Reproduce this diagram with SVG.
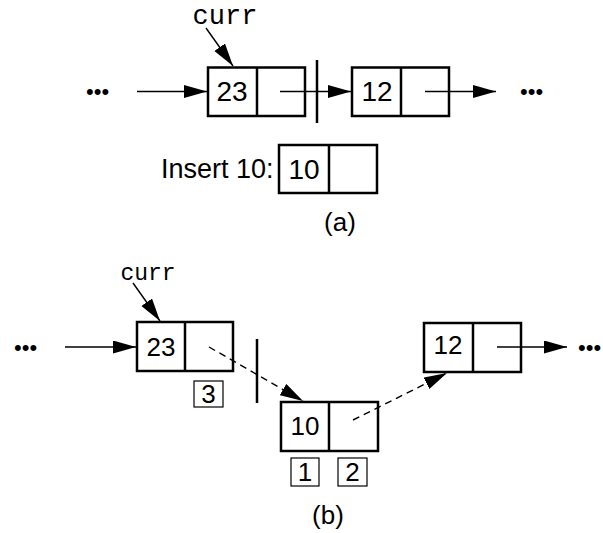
<svg xmlns="http://www.w3.org/2000/svg" width="603" height="533" viewBox="0 0 603 533">
<style>
.box{fill:#fff;stroke:#000;stroke-width:2.5}
.div{stroke:#000;stroke-width:2.5}
.small{fill:#fff;stroke:#000;stroke-width:1.2}
.t{font-family:"Liberation Sans",Arial,sans-serif;font-size:28px;fill:#000;text-anchor:middle}
.s{font-family:"Liberation Sans",Arial,sans-serif;font-size:26px;fill:#000;text-anchor:middle}
.m{font-family:"Liberation Mono","Courier New",monospace;fill:#000;text-anchor:middle}
.dots{font-family:"Liberation Sans",Arial,sans-serif;font-size:22px;fill:#000}
.ar{stroke:#000;stroke-width:1.4;fill:none}
.da{stroke:#000;stroke-width:1.4;fill:none;stroke-dasharray:7 5}
.bar{stroke:#000;stroke-width:2.5}
</style>
<defs>
<marker id="ah" markerUnits="userSpaceOnUse" markerWidth="24" markerHeight="14" refX="23" refY="6.5" orient="auto">
<path d="M0,0 L23,6.5 L0,13 z" fill="#000"/>
</marker>
</defs>

<g id="node-a23">
<rect class="box" x="208" y="67.5" width="97" height="48.5"/>
<line class="div" x1="257" y1="67.5" x2="257" y2="116"/>
<text class="t" x="232" y="101">23</text>
</g>
<g id="node-a12">
<rect class="box" x="352" y="67.5" width="97" height="48.5"/>
<line class="div" x1="401" y1="67.5" x2="401" y2="116"/>
<text class="t" x="377" y="101">12</text>
</g>
<g id="node-a10">
<rect class="box" x="279" y="145" width="98" height="48"/>
<line class="div" x1="329" y1="145" x2="329" y2="193"/>
<text class="t" x="304" y="179">10</text>
</g>
<g id="label-a">
<text class="m" x="225" y="24" style="font-size:27px">curr</text>
<text class="s" x="161" y="178" style="text-anchor:start;font-size:27px">Insert 10:</text>
<text class="s" x="340" y="231">(a)</text>
<text class="dots" x="86" y="99">•••</text>
<text class="dots" x="520" y="99">•••</text>
</g>

<g id="node-b23">
<rect class="box" x="137" y="322" width="96" height="49"/>
<line class="div" x1="185" y1="322" x2="185" y2="371"/>
<text class="s" x="161" y="356">23</text>
</g>
<g id="node-b10">
<rect class="box" x="281" y="402" width="97" height="49"/>
<line class="div" x1="329" y1="402" x2="329" y2="451"/>
<text class="s" x="305" y="435">10</text>
</g>
<g id="node-b12">
<rect class="box" x="424" y="323" width="97" height="49"/>
<line class="div" x1="473" y1="323" x2="473" y2="372"/>
<text class="s" x="448" y="354">12</text>
</g>
<g id="step3">
<rect class="small" x="194" y="381" width="29" height="26"/>
<text class="s" x="208.5" y="403">3</text>
</g>
<g id="step1">
<rect class="small" x="291" y="458" width="28" height="28"/>
<text class="s" x="305" y="481">1</text>
</g>
<g id="step2">
<rect class="small" x="338" y="458" width="29" height="28"/>
<text class="s" x="352.5" y="481">2</text>
</g>
<g id="label-b">
<text class="m" x="148" y="280" style="font-size:23px">curr</text>
<text class="s" x="328" y="524">(b)</text>
<text class="dots" x="14" y="355">•••</text>
<text class="dots" x="578" y="355">•••</text>
</g>

<g id="connectors">
<line class="ar" x1="206" y1="28" x2="233" y2="66" marker-end="url(#ah)"/>
<line class="ar" x1="137" y1="91.5" x2="207" y2="91.5" marker-end="url(#ah)"/>
<line class="ar" x1="280" y1="91.5" x2="351" y2="91.5" marker-end="url(#ah)"/>
<line class="ar" x1="425" y1="91.5" x2="496" y2="91.5" marker-end="url(#ah)"/>
<line class="bar" x1="317" y1="60" x2="317" y2="123"/>

<line class="ar" x1="133" y1="283" x2="160" y2="321" marker-end="url(#ah)"/>
<line class="ar" x1="65" y1="347" x2="136" y2="347" marker-end="url(#ah)"/>
<line class="da" x1="209" y1="347" x2="303" y2="401" marker-end="url(#ah)"/>
<line class="da" x1="353" y1="420" x2="447" y2="373" marker-end="url(#ah)"/>
<line class="ar" x1="497" y1="347" x2="567" y2="347" marker-end="url(#ah)"/>
<line class="bar" x1="257" y1="339" x2="257" y2="403"/>
</g>
</svg>
